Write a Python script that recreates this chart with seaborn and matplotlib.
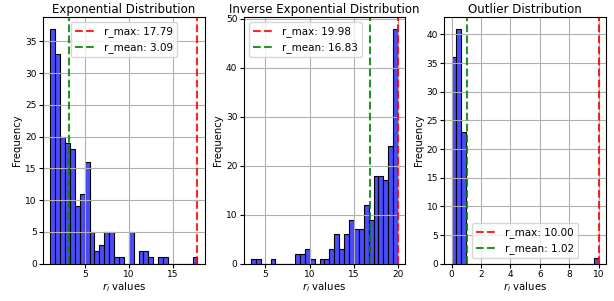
import numpy as np
import pandas as pd
import matplotlib
matplotlib.use("Agg")
import matplotlib.pyplot as plt
from matplotlib.ticker import MultipleLocator
import seaborn as sns

# bin counts (30 bins each)
exp_counts = [37, 33, 20, 19, 18, 9, 11, 16, 5, 2, 3, 5, 5, 1, 1,
              0, 5, 0, 2, 2, 1, 0, 1, 1, 0, 0, 0, 0, 0, 1]
exp_range = (1.0, 17.79)
exp_mean = 3.09

inv_counts = [1, 1, 0, 0, 1, 0, 0, 0, 0, 2, 2, 3, 1, 0, 1,
              1, 3, 6, 3, 6, 9, 7, 7, 12, 9, 18, 18, 17, 24, 48]
inv_range = (3.4, 19.98)
inv_mean = 16.83

out_counts = [36, 41, 23, 0, 0, 0, 0, 0, 0, 0, 0, 0, 0, 0, 0,
              0, 0, 0, 0, 0, 0, 0, 0, 0, 0, 0, 0, 0, 0, 1]
out_range = (0.0, 10.00)
out_mean = 1.02

titles = ["Exponential Distribution", "Inverse Exponential Distribution", "Outlier Distribution"]
legend_locs = ["upper center", "upper left", "lower center"]
tick_steps = [5, 5, 2]

fig, axes = plt.subplots(1, 3, figsize=(6.14, 3.01), dpi=100)
fig.subplots_adjust(left=0.07, right=0.987, bottom=0.124, top=0.944, wspace=0.24)

panels = [(exp_counts, exp_range, exp_mean),
          (inv_counts, inv_range, inv_mean),
          (out_counts, out_range, out_mean)]

for ax, (counts, rng, mean), title, loc, step in zip(axes, panels, titles, legend_locs, tick_steps):
    edges = np.linspace(rng[0], rng[1], len(counts) + 1)
    df = pd.DataFrame({"r": (edges[:-1] + edges[1:]) / 2, "n": counts})
    sns.histplot(data=df, x="r", weights="n", bins=len(counts), binrange=rng,
                 color="blue", alpha=0.7, edgecolor="black", linewidth=0.8, ax=ax)
    ax.axvline(rng[1], color="red", linestyle="--", alpha=0.85, label=f"r_max: {rng[1]:.2f}")
    ax.axvline(mean, color="green", linestyle="--", alpha=0.85, label=f"r_mean: {mean:.2f}")
    ax.xaxis.set_major_locator(MultipleLocator(step))
    ax.set_title(title, fontsize=8.5, pad=3)
    ax.set_xlabel(r"$r_i$ values", fontsize=7.3, labelpad=1)
    ax.set_ylabel("Frequency", fontsize=7.2, labelpad=2)
    ax.tick_params(labelsize=6.5, length=3, pad=1.5)
    ax.grid(True)
    ax.legend(loc=loc, fontsize=7.5)

plt.savefig("out.png")
